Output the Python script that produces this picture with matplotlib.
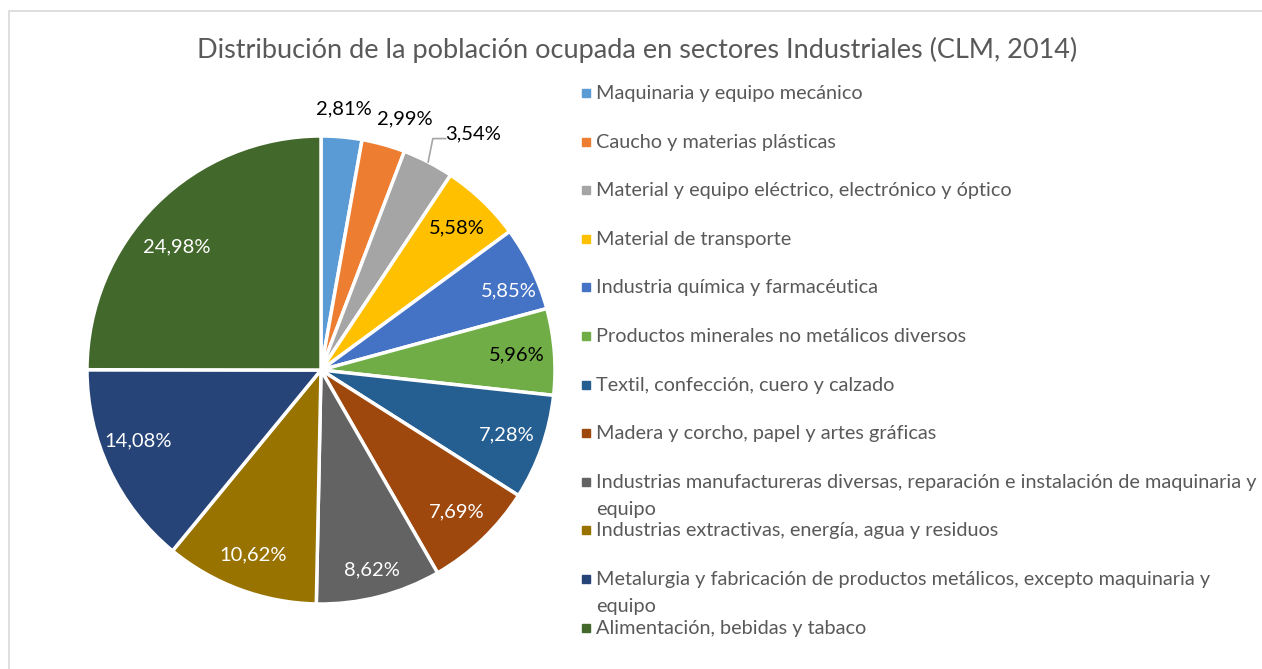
import numpy as np
import matplotlib
matplotlib.use("Agg")
import matplotlib.pyplot as plt
from matplotlib.patches import Rectangle

plt.rcParams["font.family"] = ["Lato", "DejaVu Sans"]

TITLE = "Distribución de la población ocupada en sectores Industriales (CLM, 2014)"

sectors = [
    "Maquinaria y equipo mecánico",
    "Caucho y materias plásticas",
    "Material y equipo eléctrico, electrónico y óptico",
    "Material de transporte",
    "Industria química y farmacéutica",
    "Productos minerales no metálicos diversos",
    "Textil, confección, cuero y calzado",
    "Madera y corcho, papel y artes gráficas",
    "Industrias manufactureras diversas, reparación e instalación de maquinaria y\nequipo",
    "Industrias extractivas, energía, agua y residuos",
    "Metalurgia y fabricación de productos metálicos, excepto maquinaria y\nequipo",
    "Alimentación, bebidas y tabaco",
]
shares = [2.81, 2.99, 3.54, 5.58, 5.85, 5.96, 7.28, 7.69, 8.62, 10.62, 14.08, 24.98]
colors = ["#5B9BD5", "#ED7D31", "#A5A5A5", "#FFC000", "#4472C4", "#70AD47",
          "#255E91", "#9E480E", "#636363", "#997300", "#264478", "#43682B"]
dark_text = {3, 5}      # labels drawn in black inside the slice
outside = {0, 1, 2}     # labels placed outside the pie

# label placement (radius, angle shift in degrees) per slice, Excel-like
label_r = [1.12, 1.13, 1.2, 0.84, 0.87, 0.84, 0.84, 0.84, 0.88, 0.84, 0.84, 0.81]
label_da = [0, -3, -5.5, 0, -3, 0, 0, 0, 0, 0, -4, 4.5]

W, H = 1262, 669
fig = plt.figure(figsize=(W / 100, H / 100), dpi=100)

def fx(px):
    return px / W

def fy(py):
    return 1 - py / H

# chart frame (right and bottom edges fall outside the picture)
fig.patches.append(Rectangle((fx(9), -0.5), 2, fy(11) + 0.5,
                             transform=fig.transFigure, fill=False,
                             edgecolor="#D9D9D9", linewidth=1.2))

# pie axes: centre (321, 370) px, radius 234 px
R = 234
span = 1.3
size = 2 * span * R
ax = fig.add_axes([fx(321 - size / 2), fy(370 + size / 2), size / W, size / H])

wedges, _, autotexts = ax.pie(
    shares, colors=colors, startangle=90, counterclock=False,
    autopct=lambda p: "", pctdistance=0.84,
    wedgeprops=dict(edgecolor="white", linewidth=2.5),
    textprops=dict(fontsize=14.5),
)
ax.set_xlim(-span, span)
ax.set_ylim(-span, span)
ax.set_aspect("equal")
ax.axis("off")

for i, (w, t) in enumerate(zip(wedges, autotexts)):
    t.set_text(f"{shares[i]:.2f}%".replace(".", ","))
    t.set_color("black" if (i in dark_text or i in outside) else "white")
    mid = (w.theta1 + w.theta2) / 2
    a = np.deg2rad(mid + label_da[i])
    t.set_position((label_r[i] * np.cos(a), label_r[i] * np.sin(a)))
    if i == 2:
        a = np.deg2rad(mid)
        x0, y0 = 1.0 * np.cos(a), 1.0 * np.sin(a)
        ax.plot([x0, x0 + 0.02, x0 + 0.075], [y0, y0 + 0.1, y0 + 0.1],
                color="#A5A5A5", lw=1.2)

fig.text(fx(637), fy(50), TITLE, ha="center", va="center",
         fontsize=19.5, color="#595959")

# legend
for i, (lab, c) in enumerate(zip(sectors, colors)):
    yc = 93 + i * 48.6
    fig.patches.append(Rectangle((fx(582), fy(yc + 4)), fx(8), 8 / H,
                                 transform=fig.transFigure, color=c))
    fig.text(fx(596), fy(yc - 8), lab, ha="left", va="top",
             fontsize=14.3, color="#595959", linespacing=1.72)

fig.savefig("out.png", dpi=100)
